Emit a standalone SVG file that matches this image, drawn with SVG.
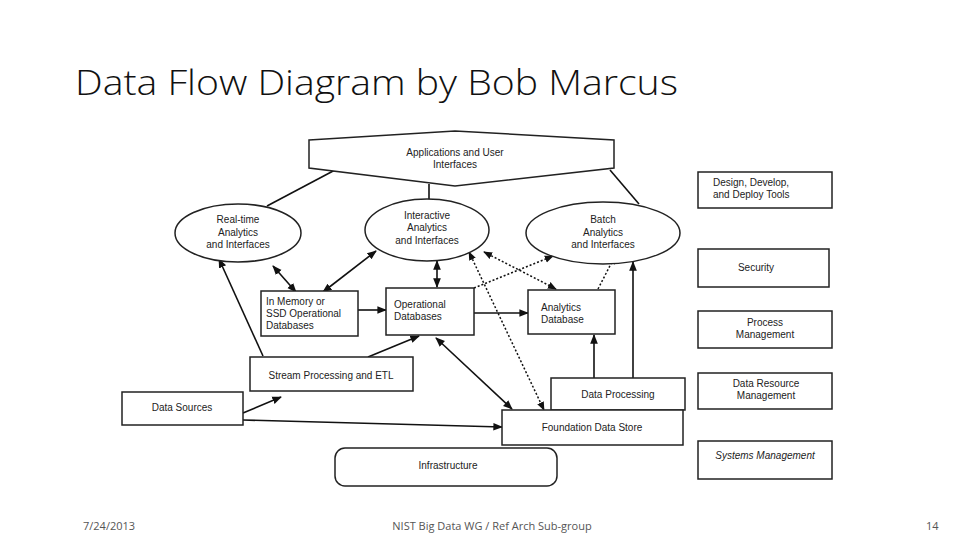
<svg xmlns="http://www.w3.org/2000/svg" width="960" height="540" viewBox="0 0 960 540">
<defs>
<marker id="a" viewBox="0 0 10 10" refX="9" refY="5" markerWidth="6" markerHeight="6" orient="auto-start-reverse"><path d="M0,1 L10,5 L0,9 z" fill="#111"/></marker>
<style>
.s{fill:#fff;stroke:#222;stroke-width:1.5}
.t{font-family:"Liberation Sans",Arial,sans-serif;font-size:10px;fill:#222;text-anchor:middle}
.l{stroke:#111;stroke-width:1.6;fill:none}
.d{stroke:#111;stroke-width:1.5;fill:none;stroke-dasharray:2 2}
.f{font-family:"Open Sans","Liberation Sans",sans-serif;font-size:11px;fill:#555}
</style>
</defs>
<rect width="960" height="540" fill="#fff"/>
<text x="75" y="95" font-family="'Open Sans','Liberation Sans',sans-serif" font-size="35" font-weight="300" fill="#111" textLength="603" lengthAdjust="spacingAndGlyphs">Data Flow Diagram by Bob Marcus</text>
<g id="connectors">
<line class="l" x1="335" y1="170" x2="267" y2="206"/>
<line class="l" x1="429" y1="184" x2="429" y2="199" stroke-width="2.5"/>
<line class="l" x1="610" y1="170" x2="639" y2="204"/>
<line class="l" x1="263" y1="356" x2="219" y2="259" marker-end="url(#a)"/>
<line class="l" x1="296" y1="292" x2="273" y2="266" marker-start="url(#a)" marker-end="url(#a)"/>
<line class="l" x1="323" y1="292" x2="376" y2="251" marker-start="url(#a)" marker-end="url(#a)"/>
<line class="l" x1="437" y1="261" x2="437" y2="287" marker-start="url(#a)" marker-end="url(#a)"/>
<line class="l" x1="358" y1="310" x2="386" y2="310" marker-end="url(#a)"/>
<line class="l" x1="474" y1="313" x2="528" y2="313" marker-end="url(#a)"/>
<line class="l" x1="368" y1="357" x2="419" y2="336" marker-end="url(#a)"/>
<line class="l" x1="512" y1="409" x2="436" y2="338" marker-start="url(#a)" marker-end="url(#a)"/>
<line class="l" x1="243" y1="413" x2="281" y2="397" marker-end="url(#a)"/>
<line class="l" x1="243" y1="420" x2="502" y2="427" marker-end="url(#a)"/>
<line class="l" x1="594" y1="378" x2="594" y2="335" marker-end="url(#a)"/>
<line class="l" x1="633" y1="378" x2="633" y2="262" marker-end="url(#a)"/>
<line class="d" x1="469" y1="252" x2="544" y2="410" marker-start="url(#a)" marker-end="url(#a)"/>
<line class="d" x1="484" y1="252" x2="556" y2="289" marker-start="url(#a)" marker-end="url(#a)"/>
<line class="d" x1="474" y1="288" x2="553" y2="256" marker-end="url(#a)"/>
<line class="d" x1="598" y1="289" x2="615" y2="256" marker-end="url(#a)"/>
</g>
<g id="apps"><polygon class="s" points="309,140 455,131 614,140 614,168 455,186 309,168"/><text class="t" x="455" y="156">Applications and User</text><text class="t" x="455" y="168">Interfaces</text></g>
<g id="realtime"><ellipse class="s" cx="238" cy="233" rx="63" ry="29"/><text class="t" x="238" y="223">Real-time</text><text class="t" x="238" y="236">Analytics</text><text class="t" x="238" y="248">and Interfaces</text></g>
<g id="interactive"><ellipse class="s" cx="427" cy="230" rx="62" ry="31"/><text class="t" x="427" y="219">Interactive</text><text class="t" x="427" y="231">Analytics</text><text class="t" x="427" y="244">and Interfaces</text></g>
<g id="batch"><ellipse class="s" cx="603" cy="233" rx="77" ry="31"/><text class="t" x="603" y="223">Batch</text><text class="t" x="603" y="236">Analytics</text><text class="t" x="603" y="248">and Interfaces</text></g>
<g id="inmem"><rect class="s" x="261" y="291" width="97" height="45"/><text class="t" x="266" y="305" text-anchor="start" style="text-anchor:start">In Memory or</text><text class="t" x="266" y="317" style="text-anchor:start">SSD Operational</text><text class="t" x="266" y="329" style="text-anchor:start">Databases</text></g>
<g id="opdb"><rect class="s" x="386" y="288" width="88" height="47"/><text class="t" x="394" y="308" style="text-anchor:start">Operational</text><text class="t" x="394" y="320" style="text-anchor:start">Databases</text></g>
<g id="anadb"><rect class="s" x="528" y="290" width="87" height="44"/><text class="t" x="541" y="311" style="text-anchor:start">Analytics</text><text class="t" x="541" y="323" style="text-anchor:start">Database</text></g>
<g id="stream"><rect class="s" x="250" y="357" width="163" height="34"/><text class="t" x="331" y="379">Stream Processing and ETL</text></g>
<g id="sources"><rect class="s" x="122" y="392" width="121" height="33"/><text class="t" x="182" y="411">Data Sources</text></g>
<g id="dataproc"><rect class="s" x="551" y="378" width="134" height="32"/><text class="t" x="618" y="398">Data Processing</text></g>
<g id="foundation"><rect class="s" x="502" y="410" width="181" height="35"/><text class="t" x="592" y="431">Foundation Data Store</text></g>
<g id="infra"><rect class="s" x="335" y="448" width="222" height="38" rx="10"/><text class="t" x="448" y="469">Infrastructure</text></g>
<g id="design"><rect class="s" x="698" y="172" width="134" height="36"/><text class="t" x="713" y="186" style="text-anchor:start">Design, Develop,</text><text class="t" x="713" y="198" style="text-anchor:start">and Deploy Tools</text></g>
<g id="security"><rect class="s" x="698" y="249" width="131" height="38"/><text class="t" x="756" y="271">Security</text></g>
<g id="process"><rect class="s" x="698" y="311" width="134" height="37"/><text class="t" x="765" y="326">Process</text><text class="t" x="765" y="338">Management</text></g>
<g id="resource"><rect class="s" x="698" y="373" width="134" height="36"/><text class="t" x="766" y="387">Data Resource</text><text class="t" x="766" y="399">Management</text></g>
<g id="systems"><rect class="s" x="698" y="441" width="134" height="38"/><text class="t" x="765" y="459" font-style="italic">Systems Management</text></g>
<text class="f" x="83" y="530">7/24/2013</text>
<text class="f" x="492" y="530" text-anchor="middle">NIST Big Data WG / Ref Arch Sub-group</text>
<text class="f" x="926" y="530">14</text>
</svg>
